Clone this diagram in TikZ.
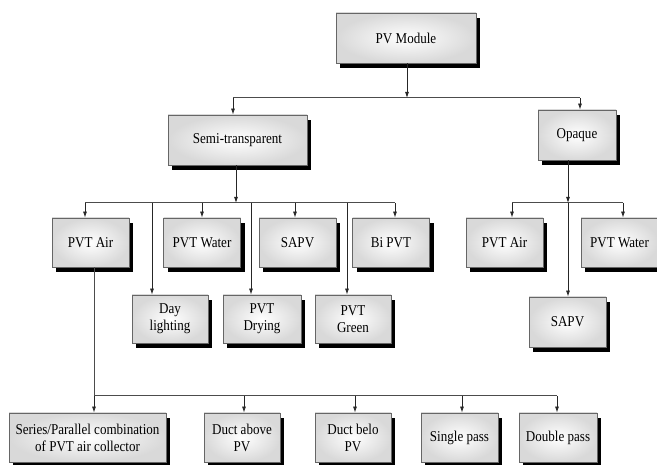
\documentclass[tikz,border=0pt]{standalone}
\usepackage{fontspec}
\setmainfont{Liberation Serif}[FakeStretch=0.87]
\usepackage{tikz}
\usetikzlibrary{arrows.meta}
\usetikzlibrary{shadows}
\tikzstyle{box}=[rectangle, draw=black!60, line width=0.8pt, inner color=white, outer color=black!15, minimum width=77pt, minimum height=49pt, align=center, font=\fontsize{15}{17}\selectfont, drop shadow={shadow xshift=4pt, shadow yshift=-5pt, fill=black, opacity=1}]
\tikzstyle{bus}=[draw=black!70, line width=1pt]
\tikzstyle{edge}=[draw=black!85, line width=0.8pt, -{Latex[length=6pt,width=4pt]}]

\begin{document}
\begin{tikzpicture}[x=1pt, y=-1pt]
	\useasboundingbox (0,0) rectangle (657,465);
	% level 0 and 1
	\draw (406,38) node[box, minimum width=140pt, minimum height=50pt] (pvm) {PV Module};
	\draw (237.5,140) node[box, minimum width=139pt, minimum height=50pt] (semi) {Semi-transparent};
	\draw (577,135) node[box, minimum width=78pt, minimum height=50pt] (opaque) {Opaque};
	% semi-transparent branch
	\draw (90.5,242.5) node[box] (sAir) {PVT Air};
	\draw (202,242.5) node[box] (sWater) {PVT Water};
	\draw (297.5,242.5) node[box] (sSapv) {SAPV};
	\draw (391,242.5) node[box] (sBi) {Bi PVT};
	\draw (170,319) node[box, minimum width=76pt, minimum height=48pt] (day) {Day\\lighting};
	\draw (262,319) node[box, minimum width=78pt, minimum height=48pt] (dry) {PVT\\Drying};
	\draw (353,319) node[box, minimum width=76pt, minimum height=48pt] (green) {PVT\\Green};
	% opaque branch
	\draw (504.5,242.5) node[box] (oAir) {PVT Air};
	\draw (619.5,242.5) node[box] (oWater) {PVT Water};
	\draw (567.5,322) node[box, minimum height=50pt] (oSapv) {SAPV};
	% PVT air types
	\draw (87.5,437.5) node[box, minimum width=157pt] (series) {Series/Parallel combination\\of PVT air collector};
	\draw (242,437.5) node[box, minimum width=76pt] (ductA) {Duct above\\PV};
	\draw (353,437.5) node[box, minimum width=76pt] (ductB) {Duct belo\\PV};
	\draw (459.5,437.5) node[box] (single) {Single pass};
	\draw (558,437.5) node[box, minimum width=78pt] (double) {Double pass};

	% connectors
	\coordinate (b0) at (407,98);
	\coordinate (b0l) at (233,98);
	\coordinate (b0r) at (580,98);
	\draw[bus] (b0l) -- (b0r);
	\draw[edge] (pvm.south -| b0) -- (b0);
	\draw[edge] (b0l) -- (b0l |- semi.north);
	\draw[edge] (b0r) -- (b0r |- opaque.north);

	\coordinate (b1) at (236,203);
	\coordinate (b1l) at (85,203);
	\coordinate (b1r) at (395,203);
	\draw[bus] (b1l) -- (b1r);
	\draw[edge] (semi.south -| b1) -- (b1);
	\foreach \x/\n in {85/sAir, 152/day, 202/sWater, 251/dry, 295/sSapv, 347/green, 395/sBi} {
		\path (\x,203) coordinate (t);
		\draw[edge] (t) -- (t |- \n.north);
	}

	\coordinate (b2) at (568,203);
	\coordinate (b2l) at (512,203);
	\coordinate (b2r) at (623,203);
	\draw[bus] (b2l) -- (b2r);
	\draw[edge] (opaque.south -| b2) -- (b2);
	\draw[edge] (b2) -- (b2 |- oSapv.north);
	\draw[edge] (b2l) -- (b2l |- oAir.north);
	\draw[edge] (b2r) -- (b2r |- oWater.north);

	\coordinate (b3) at (94,396);
	\coordinate (b3r) at (557,396);
	\draw[bus] (b3) -- (b3r);
	\draw[bus] (sAir.south -| b3) -- (b3);
	\foreach \x/\n in {94/series, 244/ductA, 355/ductB, 462/single, 557/double} {
		\path (\x,396) coordinate (t);
		\draw[edge] (t) -- (t |- \n.north);
	}
\end{tikzpicture}
\end{document}
